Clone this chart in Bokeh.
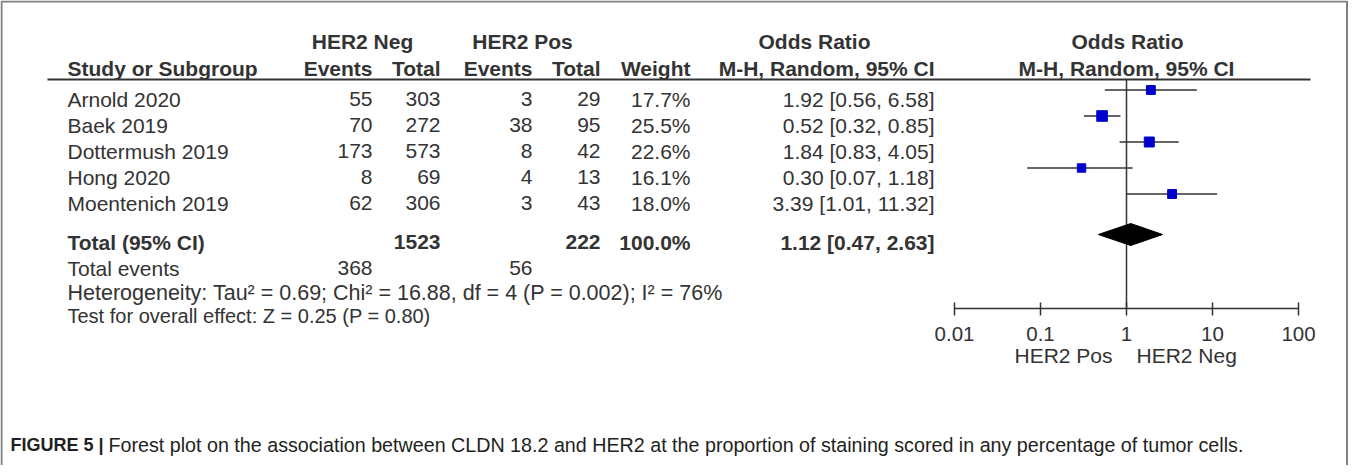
from bokeh.plotting import figure
from bokeh.models import Range1d, LogScale, ColumnDataSource
from bokeh.embed import file_html
from bokeh.resources import INLINE
from bokeh.core.properties import value
import math

# ---------------- data ----------------
studies = ["Arnold 2020", "Baek 2019", "Dottermush 2019", "Hong 2020", "Moentenich 2019"]
neg_events = [55, 70, 173, 8, 62]
neg_total = [303, 272, 573, 69, 306]
pos_events = [3, 38, 8, 4, 3]
pos_total = [29, 95, 42, 13, 43]
weights = [17.7, 25.5, 22.6, 16.1, 18.0]
odds_ratio = [1.92, 0.52, 1.84, 0.30, 3.39]
ci_low = [0.56, 0.32, 0.83, 0.07, 1.01]
ci_high = [6.58, 0.85, 4.05, 1.18, 11.32]
total_or = [1.12]
total_low = [0.47]
total_high = [2.63]
total_neg = 1523
total_pos = 222
total_weight = 100.0
events_neg = 368
events_pos = 56
axis_ticks = [0.01, 0.1, 1, 10, 100]
tick_labels = ["0.01", "0.1", "1", "10", "100"]
favours = ["HER2 Pos", "HER2 Neg"]
heterogeneity = "Heterogeneity: Tau\u00b2 = 0.69; Chi\u00b2 = 16.88, df = 4 (P = 0.002); I\u00b2 = 76%"
overall = "Test for overall effect: Z = 0.25 (P = 0.80)"
caption_bold = "FIGURE 5 |"
caption_text = ("Forest plot on the association between CLDN 18.2 and HER2 at the proportion "
                "of staining scored in any percentage of tumor cells.")

# ---------------- layout ----------------
W, H = 1348, 465
X1, DEC = 1126, 86          # canvas x of OR = 1, pixels per decade
FONT = value("Liberation Sans")
TXT = "#333333"

p = figure(width=W, height=H, x_range=Range1d(0, W), y_range=Range1d(H, 0),
           output_backend="svg", toolbar_location=None, min_border=0,
           x_axis_location=None, y_axis_location=None)
p.grid.visible = False
p.outline_line_color = None
p.background_fill_color = "white"
p.border_fill_color = "white"
p.extra_x_ranges = {"or": Range1d(10 ** ((0 - X1) / DEC), 10 ** ((W - X1) / DEC))}
p.extra_x_scales = {"or": LogScale()}


def txt(xs, ys, texts, align="left", size=21, bold=False, color=TXT, rng="default",
        x_offset=0):
    src = ColumnDataSource(dict(x=xs, y=ys, t=texts))
    p.text(x="x", y="y", text="t", source=src, text_align=align,
           text_baseline="alphabetic", text_font=FONT, text_font_size=f"{size}px",
           text_font_style="bold" if bold else "normal", text_color=color,
           x_range_name=rng, x_offset=x_offset)


# frame box
p.line(x=[1, 1, W - 1.5, W - 1.5], y=[H, 1, 1, H], line_color="#808080", line_width=2)

# headers
HB1, HB2, HL = 41, 68, 79
txt([362, 522, 814], [HB1] * 3, ["HER2 Neg", "HER2 Pos", "Odds Ratio"], "center", bold=True)
txt([67], [HB2], ["Study or Subgroup"], "left", bold=True)
txt([372, 440, 532, 600, 690, 934], [HB2] * 6,
    ["Events", "Total", "Events", "Total", "Weight", "M-H, Random, 95% CI"], "right", bold=True)
txt([1127], [HB1], ["Odds Ratio"], "center", bold=True)
txt([1126], [HB2], ["M-H, Random, 95% CI"], "center", bold=True)
p.line(x=[47, 1310], y=[HL, HL], line_color="#333333", line_width=2)

# study rows
n = len(studies)
STEP = 26
base = [98.5 + STEP * i for i in range(n)]
row_y = [b - 9 for b in base]
txt([67] * n, base, studies, "left")
txt([372] * n, base, [str(v) for v in neg_events], "right")
txt([440] * n, base, [str(v) for v in neg_total], "right")
txt([532] * n, base, [str(v) for v in pos_events], "right")
txt([600] * n, base, [str(v) for v in pos_total], "right")
txt([690] * n, base, [f"{w:.1f}%" for w in weights], "right")
txt([934] * n, base, [f"{o:.2f} [{l:.2f}, {h:.2f}]" for o, l, h in zip(odds_ratio, ci_low, ci_high)],
    "right")

# total row
TB = 241.5
TY = TB - 7.5
txt([67], [TB], ["Total (95% CI)"], "left", bold=True)
txt([440, 600, 690, 934], [TB] * 4,
    [str(total_neg), str(total_pos), f"{total_weight:.1f}%",
     f"{total_or[0]:.2f} [{total_low[0]:.2f}, {total_high[0]:.2f}]"], "right", bold=True)

EB = 267.5
txt([67], [EB], ["Total events"], "left")
txt([372, 532], [EB] * 2, [str(events_neg), str(events_pos)], "right")
txt([67], [292], [heterogeneity], "left", size=21.5)
txt([67], [315.5], [overall], "left", size=20)

# forest plot
AX_Y = 308
p.segment(x0=[1], x1=[1], y0=[HL], y1=[AX_Y], x_range_name="or",
          line_color="#333333", line_width=1.5)
p.segment(x0=ci_low, x1=ci_high, y0=row_y, y1=row_y, x_range_name="or",
          line_color="#333333", line_width=1.6)
p.scatter(x=odds_ratio, y=row_y, size=[2.1 * math.sqrt(w) for w in weights], marker="square",
          fill_color="#0000CC", line_color="#0000CC", x_range_name="or")
p.patch(x=[total_low[0], total_or[0], total_high[0], total_or[0]],
        y=[TY, TY - 11, TY, TY + 11], x_range_name="or",
        fill_color="black", line_color="black")

# axis
p.segment(x0=[axis_ticks[0]], x1=[axis_ticks[-1]], y0=[AX_Y], y1=[AX_Y], x_range_name="or",
          line_color="#333333", line_width=1.5)
p.segment(x0=axis_ticks, x1=axis_ticks, y0=[AX_Y - 6] * 5, y1=[AX_Y + 7] * 5,
          x_range_name="or", line_color="#333333", line_width=1.5)
txt(axis_ticks, [333] * 5, tick_labels, "center", size=20.5, rng="or")
txt([1], [355], [favours[0]], "right", rng="or", x_offset=-14)
txt([1], [355], [favours[1]], "left", rng="or", x_offset=10)

# caption
txt([10], [444.5], [caption_bold], "left", size=18, bold=True, color="#231f20")
txt([108], [444.5], [caption_text], "left", size=19.7, color="#231f20")

open("out.html", "w").write(file_html(p, INLINE))
